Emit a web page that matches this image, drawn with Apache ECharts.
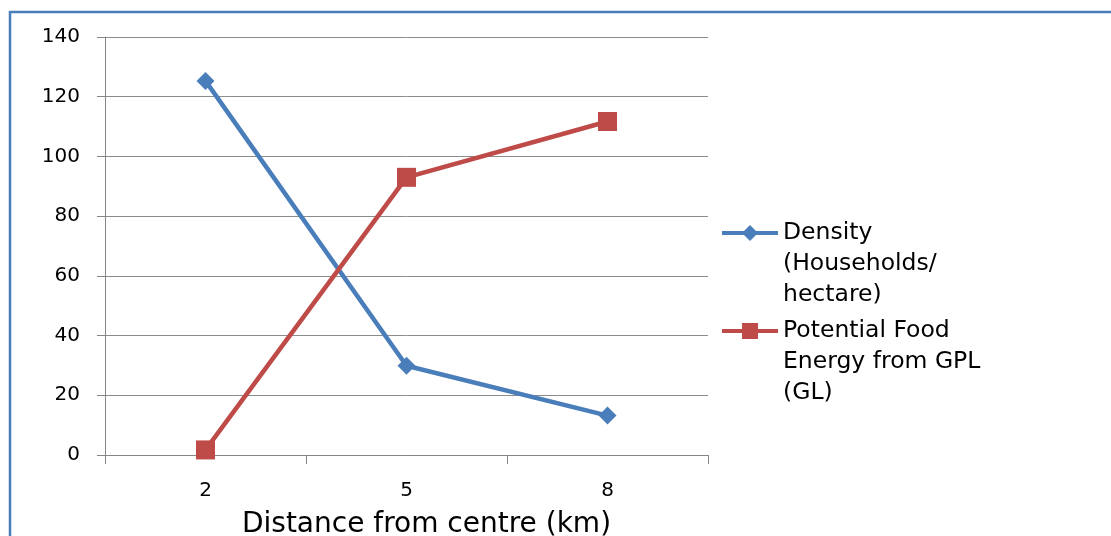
<!DOCTYPE html>
<html>
<head>
<meta charset="utf-8">
<script src="https://cdn.jsdelivr.net/npm/echarts@6/dist/echarts.min.js"></script>
<style>html,body{margin:0;padding:0;background:#fff;}#c{width:1111px;height:536px;}</style>
</head>
<body>
<div id="c"></div>
<script>
var categories = ['2', '5', '8'];
var densityName = 'Density\n(Households/\nhectare)';
var foodName = 'Potential Food\nEnergy from GPL\n(GL)';
var densityValues = [125.3, 29.9, 13.2];
var foodValues = [1.7, 93, 111.7];
var xAxisTitle = 'Distance from centre (km)';

var chart = echarts.init(document.getElementById('c'), null, {renderer: 'canvas'});
var font = '"DejaVu Sans", sans-serif';
var legendText = {fontFamily: font, fontSize: 23.5, color: '#000', lineHeight: 31};
function legendFmt(n) { return '\n\n' + n; }
chart.setOption({
  animation: false,
  backgroundColor: '#fff',
  graphic: [{
    type: 'rect', shape: {x: 10, y: 12, width: 1200, height: 600},
    style: {fill: 'none', stroke: '#4a7ebb', lineWidth: 2.5}, silent: true
  }],
  grid: {left: 105, right: 403, top: 37, bottom: 81, outerBoundsMode: 'none', containLabel: false},
  legend: [{
    data: [densityName], orient: 'vertical', left: 720, top: 155.5, padding: 0,
    itemWidth: 56, itemHeight: 20, formatter: legendFmt, textStyle: legendText,
    lineStyle: {width: 4}
  }, {
    data: [foodName], orient: 'vertical', left: 720, top: 253.5, padding: 0,
    itemWidth: 56, itemHeight: 20, formatter: legendFmt, textStyle: legendText,
    lineStyle: {width: 4}
  }],
  xAxis: {
    type: 'category', data: categories, boundaryGap: true,
    axisLine: {lineStyle: {color: '#868686', width: 1}},
    axisTick: {show: true, alignWithLabel: false, length: 9, lineStyle: {color: '#868686'}},
    axisLabel: {fontFamily: font, fontSize: 20, color: '#000', margin: 26},
    name: xAxisTitle, nameLocation: 'middle', nameGap: 56,
    nameTextStyle: {fontFamily: font, fontSize: 28, color: '#000', padding: [0, 0, 0, 40]}
  },
  yAxis: {
    type: 'value', min: 0, max: 140, interval: 20,
    axisLine: {show: true, lineStyle: {color: '#868686', width: 1}},
    axisTick: {show: true, length: 8, lineStyle: {color: '#868686'}},
    axisLabel: {fontFamily: font, fontSize: 20, color: '#000', margin: 25},
    splitLine: {lineStyle: {color: '#8c8c8c', width: 1}}
  },
  series: [{
    name: densityName, type: 'line', data: densityValues,
    symbol: 'diamond', symbolSize: 18,
    lineStyle: {color: '#4a7ebb', width: 4.5},
    itemStyle: {color: '#4a7ebb'}
  }, {
    name: foodName, type: 'line', data: foodValues,
    symbol: 'rect', symbolSize: 19,
    lineStyle: {color: '#be4b48', width: 4.5},
    itemStyle: {color: '#be4b48'}
  }]
});
</script>
</body>
</html>
